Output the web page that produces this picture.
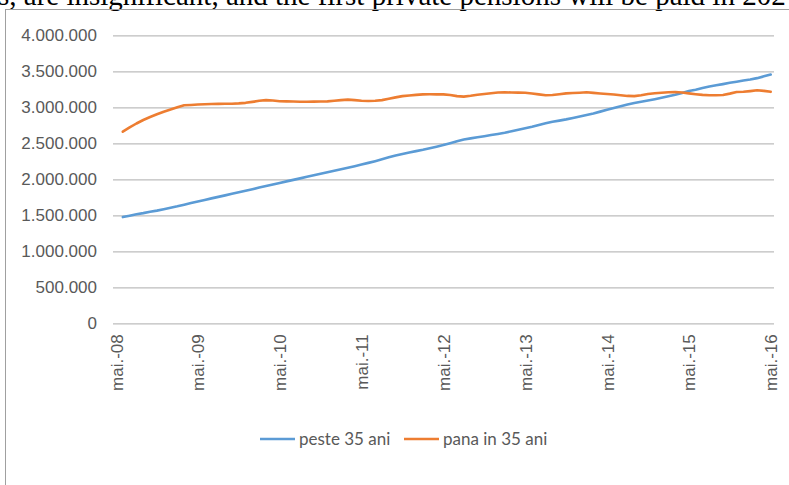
<!DOCTYPE html>
<html>
<head>
<meta charset="utf-8">
<script src="https://cdn.jsdelivr.net/npm/d3@7"></script>
<style>
  body { margin: 0; background: #fff; overflow: hidden; }
</style>
</head>
<body>
<div id="chart"></div>
<script>
// 1. Data (monthly, iun.-08 .. mai.-16)
const tickLabels = ["mai.-08", "mai.-09", "mai.-10", "mai.-11", "mai.-12", "mai.-13", "mai.-14", "mai.-15", "mai.-16"];
const yTicks = [0, 500000, 1000000, 1500000, 2000000, 2500000, 3000000, 3500000, 4000000];
const seriesNames = ["peste 35 ani", "pana in 35 ani"];

// values in millions
const peste35 = [
  1.475, 1.495, 1.515, 1.530, 1.548, 1.565, 1.585, 1.605, 1.625, 1.648,
  1.670, 1.692, 1.713, 1.735, 1.756, 1.777, 1.798, 1.820, 1.842, 1.863,
  1.885, 1.906, 1.928, 1.950, 1.971, 1.992, 2.013, 2.034, 2.055, 2.076,
  2.097, 2.118, 2.139, 2.160, 2.182, 2.205, 2.228, 2.252, 2.278, 2.305,
  2.330, 2.352, 2.372, 2.391, 2.410, 2.432, 2.453, 2.475, 2.502, 2.530,
  2.553, 2.568, 2.583, 2.598, 2.614, 2.630, 2.647, 2.667, 2.688, 2.708,
  2.730, 2.755, 2.778, 2.800, 2.815, 2.832, 2.852, 2.872, 2.893, 2.915,
  2.940, 2.965, 2.990, 3.015, 3.040, 3.060, 3.077, 3.095, 3.113, 3.133,
  3.153, 3.175, 3.200, 3.225, 3.245, 3.268, 3.288, 3.305, 3.322, 3.340,
  3.355, 3.372, 3.385, 3.405, 3.430, 3.455
];
const pana35 = [
  2.661, 2.720, 2.775, 2.824, 2.865, 2.903, 2.939, 2.970, 3.000, 3.028,
  3.033, 3.038, 3.042, 3.046, 3.048, 3.049, 3.050, 3.054, 3.062, 3.075,
  3.090, 3.100, 3.095, 3.085, 3.082, 3.080, 3.078, 3.078, 3.079, 3.080,
  3.082, 3.090, 3.100, 3.106, 3.100, 3.092, 3.088, 3.090, 3.100, 3.118,
  3.138, 3.155, 3.165, 3.173, 3.180, 3.181, 3.180, 3.180, 3.170, 3.155,
  3.148, 3.160, 3.175, 3.185, 3.195, 3.205, 3.208, 3.206, 3.204, 3.203,
  3.192, 3.180, 3.168, 3.170, 3.182, 3.193, 3.198, 3.203, 3.208, 3.200,
  3.192, 3.185, 3.178, 3.168, 3.158, 3.155, 3.168, 3.185, 3.195, 3.203,
  3.210, 3.212, 3.205, 3.193, 3.182, 3.172, 3.167, 3.168, 3.170, 3.190,
  3.213, 3.215, 3.225, 3.236, 3.228, 3.215
];
const colors = ["#5b9bd5", "#ed7d31"];

// 2. Dimensions
const dims = {
  width: 789,
  height: 485,
  margin: { top: 35.3, right: 15, bottom: 161.7, left: 113 },
};
dims.containerWidth = dims.width - dims.margin.left - dims.margin.right;
dims.containerHeight = dims.height - dims.margin.top - dims.margin.bottom;

// 3. Container
const svg = d3
  .select("#chart")
  .append("svg")
  .attr("width", dims.width)
  .attr("height", dims.height)
  .style("font-family", "Lato, 'Open Sans', sans-serif");

// text of the document above the chart (cut off)
svg
  .append("text")
  .attr("x", -2)
  .attr("y", 5)
  .attr("fill", "#000")
  .style("font-family", "'Liberation Serif', serif")
  .style("font-size", "29px")
  .text("s, are insignificant, and the first private pensions will be paid in 202");

// chart area border
svg
  .append("rect")
  .attr("x", 5.5)
  .attr("y", 9.5)
  .attr("width", 800)
  .attr("height", 500)
  .attr("fill", "none")
  .attr("stroke", "#a0a0a0")
  .attr("stroke-width", 1);

const container = svg
  .append("g")
  .attr("transform", `translate(${dims.margin.left}, ${dims.margin.top})`);

// 4. Scales
const xScale = d3
  .scaleLinear()
  .domain([0, 96])
  .range([3, 657.7]);

const yScale = d3
  .scaleLinear()
  .domain([0, 4000000])
  .range([dims.containerHeight, 0]);

const locale = d3.formatLocale({ decimal: ",", thousands: ".", grouping: [3], currency: ["", ""] });
const fmt = locale.format(",");

// 5. Grid + y axis
const yAxis = d3
  .axisLeft(yScale)
  .tickValues(yTicks)
  .tickSize(-dims.containerWidth)
  .tickPadding(16)
  .tickFormat(fmt);

const yAxisGroup = container.append("g").call(yAxis);
yAxisGroup.select(".domain").remove();
yAxisGroup
  .selectAll(".tick line")
  .attr("stroke", "#bdbdbd")
  .attr("stroke-width", 1.2);
yAxisGroup
  .selectAll(".tick text")
  .attr("fill", "#595959")
  .style("font-size", "17px");

// x axis labels
const xAxis = d3
  .axisBottom(xScale)
  .tickValues(d3.range(0, 97, 12))
  .tickSize(0)
  .tickFormat((d, i) => tickLabels[i]);

const xAxisGroup = container
  .append("g")
  .attr("transform", `translate(0, ${dims.containerHeight})`)
  .call(xAxis);
xAxisGroup.select(".domain").remove();
xAxisGroup
  .selectAll(".tick text")
  .attr("fill", "#595959")
  .style("font-size", "17px")
  .attr("text-anchor", "end")
  .attr("transform", "rotate(-90)")
  .attr("x", -11)
  .attr("y", 0)
  .attr("dy", "0.36em");

// 6. Lines (data starts at iun.-08 = month 1)
const lineGenerator = d3
  .line()
  .x((d, i) => xScale(i + 1))
  .y((d) => yScale(d * 1000000));

[peste35, pana35].forEach((series, k) => {
  container
    .append("path")
    .datum(series)
    .attr("d", lineGenerator)
    .attr("fill", "none")
    .attr("stroke", colors[k])
    .attr("stroke-width", 2.6)
    .attr("stroke-linejoin", "round")
    .attr("stroke-linecap", "round");
});

// 7. Legend
const legendItems = [
  { name: seriesNames[0], color: colors[0], x: 260 },
  { name: seriesNames[1], color: colors[1], x: 404 },
];
const legend = svg.append("g").attr("transform", "translate(0, 439)");
legendItems.forEach((item) => {
  legend
    .append("line")
    .attr("x1", item.x)
    .attr("x2", item.x + 35)
    .attr("y1", 0)
    .attr("y2", 0)
    .attr("stroke", item.color)
    .attr("stroke-width", 2.6);
  legend
    .append("text")
    .attr("x", item.x + 39)
    .attr("y", 0)
    .attr("dy", "0.35em")
    .attr("fill", "#595959")
    .style("font-size", "17px")
    .text(item.name);
});
</script>
</body>
</html>
